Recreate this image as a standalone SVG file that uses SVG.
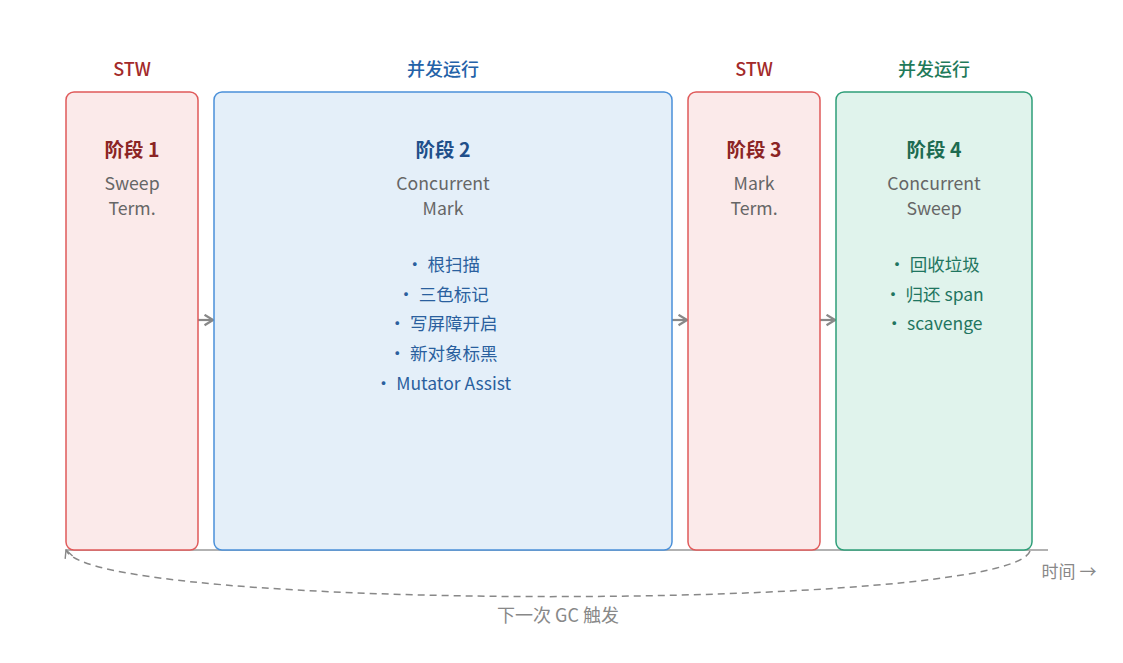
<svg xmlns="http://www.w3.org/2000/svg" width="1123" height="663" viewBox="0 0 1123 663">
<style>
text{font-family:"Noto Sans CJK SC","Noto Sans",sans-serif;text-anchor:middle}
.hdr{font-size:18px;font-weight:500}
.ttl{font-size:19.5px;font-weight:700}
.sub{font-size:17.7px;fill:#666}
.li{font-size:17.5px}
.red{fill:#fbeaea;stroke:#e05a5a;stroke-width:1.5}
.blue{fill:#e4eff9;stroke:#4a90d9;stroke-width:1.5}
.green{fill:#e0f3ec;stroke:#2e9e78;stroke-width:1.5}
.conn{stroke:#888;stroke-width:2.2;fill:none}
</style>
<defs>
<marker id="ah" viewBox="0 0 10 10" refX="9" refY="5" markerWidth="13" markerHeight="13" markerUnits="userSpaceOnUse" orient="auto">
<path d="M2.5,1 L9,5 L2.5,9" fill="none" stroke="#888" stroke-width="1.7"/>
</marker>
<marker id="ah2" viewBox="0 0 10 10" refX="9" refY="5" markerWidth="10" markerHeight="10" markerUnits="userSpaceOnUse" orient="auto">
<path d="M1,1 L9,5 L1,9" fill="none" stroke="#888" stroke-width="1.4"/>
</marker>
</defs>
<rect width="1123" height="663" fill="#fff"/>
<g id="connectors">
<line x1="66" y1="550" x2="1048" y2="550" stroke="#999" stroke-width="1.5"/>
<line class="conn" x1="198" y1="320" x2="213" y2="320" marker-end="url(#ah)"/>
<line class="conn" x1="672" y1="320" x2="687" y2="320" marker-end="url(#ah)"/>
<line class="conn" x1="820" y1="320" x2="835" y2="320" marker-end="url(#ah)"/>
<path d="M1030,551 C1010,612 90,612 66,550" fill="none" stroke="#888" stroke-width="1.5" stroke-dasharray="7,5" marker-end="url(#ah2)"/>
<text x="558" y="622" style="font-size:18px;fill:#888">下一次 GC 触发</text>
<text x="1069" y="578" style="font-size:17px;fill:#888">时间 →</text>
</g>
<g id="phase1">
<text class="hdr" x="132" y="76" fill="#a32a2a">STW</text>
<rect class="red" x="66" y="92" width="132" height="458" rx="8"/>
<text class="ttl" x="132" y="157" fill="#8b2424">阶段 1</text>
<text class="sub" x="132" y="190">Sweep</text>
<text class="sub" x="132" y="215">Term.</text>
</g>
<g id="phase2">
<text class="hdr" x="443" y="76" fill="#2462a8">并发运行</text>
<rect class="blue" x="214" y="92" width="458" height="458" rx="8"/>
<text class="ttl" x="443" y="157" fill="#1f4f8a">阶段 2</text>
<text class="sub" x="443" y="190">Concurrent</text>
<text class="sub" x="443" y="215">Mark</text>
<g fill="#2a5f9e" class="li">
<text x="443" y="271">•  根扫描</text>
<text x="443" y="301">•  三色标记</text>
<text x="443" y="330">•  写屏障开启</text>
<text x="443" y="360">•  新对象标黑</text>
<text x="443" y="390">•  Mutator Assist</text>
</g>
</g>
<g id="phase3">
<text class="hdr" x="754" y="76" fill="#a32a2a">STW</text>
<rect class="red" x="688" y="92" width="132" height="458" rx="8"/>
<text class="ttl" x="754" y="157" fill="#8b2424">阶段 3</text>
<text class="sub" x="754" y="190">Mark</text>
<text class="sub" x="754" y="215">Term.</text>
</g>
<g id="phase4">
<text class="hdr" x="934" y="76" fill="#1f7a5a">并发运行</text>
<rect class="green" x="836" y="92" width="196" height="458" rx="8"/>
<text class="ttl" x="934" y="157" fill="#1d6b50">阶段 4</text>
<text class="sub" x="934" y="190">Concurrent</text>
<text class="sub" x="934" y="215">Sweep</text>
<g fill="#1f7560" class="li">
<text x="934" y="271">•  回收垃圾</text>
<text x="934" y="301">•  归还 span</text>
<text x="934" y="330">•  scavenge</text>
</g>
</g>
</svg>
